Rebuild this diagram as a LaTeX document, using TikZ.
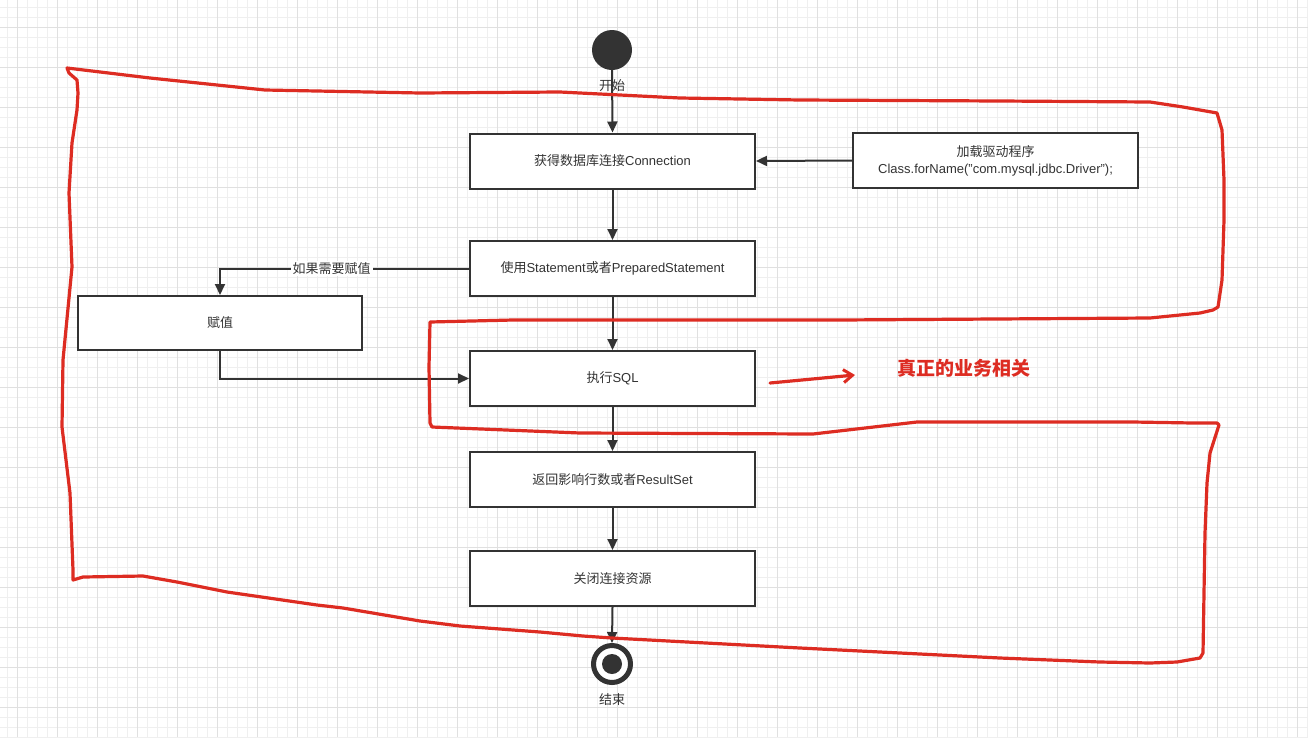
\documentclass[tikz,border=0pt]{standalone}
\usepackage{fontspec}
\setmainfont{Liberation Sans}
\newfontfamily\cjk{Noto Sans CJK SC}
\usetikzlibrary{arrows.meta}
\definecolor{ink}{HTML}{333333}
\definecolor{gminor}{HTML}{EFEFEF}
\definecolor{gmajor}{HTML}{E0E0E0}
\definecolor{redpen}{HTML}{DD2C22}
\tikzset{
  stepbox/.style={draw=ink, line width=2pt, fill=white, minimum width=285pt, minimum height=55pt, inner sep=0pt, text=ink, font=\fontsize{13}{17}\selectfont},
  arr/.style={draw=ink, line width=2pt, -{Triangle[length=11pt,width=10pt]}},
  lbl/.style={text=ink, font=\fontsize{13}{15}\selectfont},
  pen/.style={draw=redpen, line width=3.2pt, line join=round, line cap=round},
}
\begin{document}
\begin{tikzpicture}[x=1pt,y=-1pt]
\useasboundingbox (0,0) rectangle (1308,737);
\fill[white] (0,0) rectangle (1308,737);
\foreach \x in {7,17,...,1307} \draw[gminor, line width=0.9pt] (\x,0) -- (\x,737);
\foreach \y in {7,17,...,737} \draw[gminor, line width=0.9pt] (0,\y) -- (1308,\y);
\foreach \x in {17,57,...,1307} \draw[gmajor, line width=1pt] (\x,0) -- (\x,737);
\foreach \y in {27,67,...,737} \draw[gmajor, line width=1pt] (0,\y) -- (1308,\y);

% nodes
\node[circle, fill=ink, minimum size=40pt, inner sep=0pt] (start) at (612,50) {};
\node[lbl] (startl) at (612,86) {\cjk 开始};
\node[stepbox] (b1) at (612.5,161) {\cjk 获得数据库连接\rmfamily Connection};
\node[stepbox, align=center] (drv) at (995.5,160.5) {\cjk 加载驱动程序\\ Class.forName("com.mysql.jdbc.Driver");};
\node[stepbox] (b2) at (612.5,268.5) {\cjk 使用\rmfamily Statement\cjk 或者\rmfamily PreparedStatement};
\node[stepbox, minimum width=284pt, minimum height=54pt] (asg) at (220,323) {\cjk 赋值};
\node[stepbox] (b3) at (612.5,378.5) {\cjk 执行\rmfamily SQL};
\node[stepbox] (b4) at (612.5,479.5) {\cjk 返回影响行数或者\rmfamily ResultSet};
\node[stepbox] (b5) at (612.5,578.5) {\cjk 关闭连接资源};
\node[circle, draw=ink, line width=5pt, fill=white, minimum size=37pt, inner sep=0pt] (end) at (612,664) {};
\node[circle, fill=ink, minimum size=20pt, inner sep=0pt] (endin) at (612,664) {};
\node[lbl] (endl) at (612,700) {\cjk 结束};

% connectors
\draw[arr] (start.south) -- (b1.north);
\draw[arr] (drv.west) -- (b1.east);
\draw[arr] (b1.south) -- (b2.north);
\draw[arr] (b2.west) -| (asg.north) node[lbl, pos=0.276, fill=white, inner sep=2pt] {\cjk 如果需要赋值};
\draw[arr] (asg.south) |- (b3.west);
\draw[arr] (b2.south) -- (b3.north);
\draw[arr] (b3.south) -- (b4.north);
\draw[arr] (b4.south) -- (b5.north);
\draw[arr] (b5.south) -- (end.north);

% red freehand loop
\draw[pen] (67,68) -- (150,78) -- (265,90) -- (420,93) -- (560,92) -- (680,98) -- (800,100) -- (1000,101) -- (1150,102) -- (1183,107) -- (1217,113)
  -- (1222,130) -- (1224,180) -- (1224,220) -- (1222,280) -- (1218,307) -- (1213,310)
  -- (1200,313) -- (1150,318) -- (840,320) -- (513,320) -- (430,322)
  -- (429,367) -- (430,423) -- (432,427) -- (580,433) -- (813,434) -- (917,422) -- (1133,422) -- (1193,423) -- (1217,423) -- (1219,425)
  -- (1210,453) -- (1207,483) -- (1205,533) -- (1203,653) -- (1200,658) -- (1177,662) -- (1150,663) -- (1100,662) -- (1000,658) -- (800,648)
  -- (612,638) -- (583,636) -- (540,632) -- (460,626) -- (420,621) -- (343,608) -- (317,605) -- (227,592) -- (177,582) -- (143,576) -- (83,577) -- (73,580)
  -- (73,570) -- (70,493) -- (62,427) -- (63,360) -- (72,267) -- (69,193) -- (72,143) -- (77,110) -- (78,93) -- (77,80) -- (69,73) -- cycle;

% red annotation
\coordinate (ra) at (770,383);
\coordinate (rb) at (855,375);
\draw[pen, -{Straight Barb[length=9pt,width=13pt,line width=3pt]}] (ra) -- (rb);
\node[text=redpen, font=\fontsize{19}{22}\selectfont\bfseries] (note) at (964,368) {\cjk\bfseries 真正的业务相关};
\end{tikzpicture}
\end{document}
